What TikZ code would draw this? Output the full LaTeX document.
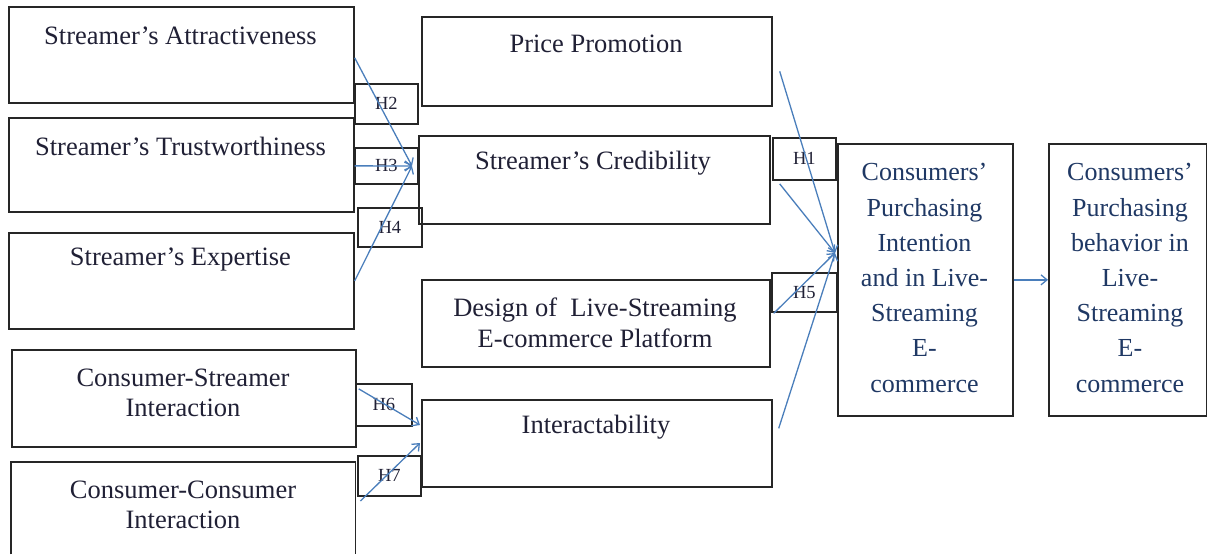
\documentclass[tikz,border=0pt]{standalone}
\usepackage{fontspec}
\setmainfont{Liberation Serif}
\usetikzlibrary{arrows.meta,calc}
\definecolor{arrowblue}{HTML}{4A7EBB}
\definecolor{navy}{HTML}{1F3864}
\definecolor{ink}{HTML}{202035}

\begin{document}
\begin{tikzpicture}[x=1pt,y=-1pt,
  frame/.style={draw=black!85, line width=1.7pt, rectangle, inner sep=0pt, anchor=north west},
  blank/.style={rectangle, inner sep=0pt, anchor=north west},
  boxline/.style={draw=black!85, line width=1.7pt},
  hyp/.style={frame, font=\fontsize{18.5}{20}\selectfont, text=ink},
  lbl/.style={font=\fontsize{26.5}{30.5}\selectfont, text=ink, align=center, inner sep=0pt},
  outlbl/.style={font=\fontsize{26}{35.2}\selectfont, text=navy, align=center, inner sep=0pt},
  arr/.style={draw=arrowblue, line width=1.3pt, -{Straight Barb[length=6pt,width=10pt]}}
]
\useasboundingbox (0,0) rectangle (1207,554);

% antecedent constructs
\node[frame, minimum width=345pt, minimum height=96pt] (A) at (8,6) {};
\node[frame, minimum width=345pt, minimum height=94pt] (T) at (8,117) {};
\node[frame, minimum width=345pt, minimum height=96pt] (E) at (8,232) {};
\node[frame, minimum width=344pt, minimum height=97pt] (CS) at (11,349) {};
\node[blank, minimum width=344pt, minimum height=92pt] (CC) at (11,462) {};
\draw[boxline] (CC.south west) |- (CC.north east) -- (CC.south east);

% mediating constructs
\node[frame, minimum width=350pt, minimum height=89pt] (PP) at (421,16) {};
\node[frame, minimum width=351pt, minimum height=88pt] (CR) at (418,135) {};
\node[frame, minimum width=348pt, minimum height=87pt] (DS) at (421,279) {};
\node[frame, minimum width=350pt, minimum height=87pt] (IA) at (421,399) {};

% outcome constructs
\node[frame, minimum width=175pt, minimum height=272pt] (PI) at (837,143) {};
\node[frame, minimum width=158pt, minimum height=272pt] (PB) at (1048,143) {};

% labels
\node[lbl] (At) at (180.5,36) {Streamer’s Attractiveness};
\node[lbl] (Tt) at (180.5,146) {Streamer’s Trustworthiness};
\node[lbl] (Et) at (180.5,260) {Streamer’s Expertise};
\node[lbl] (CSt) at (183,393) {Consumer-Streamer\\Interaction};
\node[lbl] (CCt) at (183,505) {Consumer-Consumer\\Interaction};
\node[lbl] (PPt) at (596,44) {Price Promotion};
\node[lbl] (CRt) at (593,163) {Streamer’s Credibility};
\node[lbl] (DSt) at (595,323) {Design of~ Live-Streaming\\E-commerce Platform};
\node[lbl] (IAt) at (596,427) {Interactability};
\node[outlbl] (PIt) at (924.5,278) {Consumers’\\Purchasing\\Intention\\and in Live-\\Streaming\\E-\\commerce};
\node[outlbl] (PBt) at (1130,278) {Consumers’\\Purchasing\\behavior in\\Live-\\Streaming\\E-\\commerce};

% hypothesis tags
\node[hyp, minimum width=63pt, minimum height=40pt] (H2) at (354,83) {H2};
\node[hyp, minimum width=63pt, minimum height=36pt] (H3) at (354,147) {H3};
\node[hyp, minimum width=64pt, minimum height=39pt] (H4) at (357,207) {H4};
\node[hyp, minimum width=63pt, minimum height=42pt] (H1) at (772,137) {H1};
\node[hyp, minimum width=65pt, minimum height=39pt] (H5) at (771,272) {H5};
\node[hyp, minimum width=56pt, minimum height=42pt] (H6) at (355,383) {H6};
\node[hyp, minimum width=63pt, minimum height=40pt] (H7) at (357,455) {H7};

% arrow targets
\coordinate (credIn) at (412,166);
\coordinate (interIn1) at (420,425);
\coordinate (interIn2) at (420,443);
\coordinate (hub) at (835,253);

% paths into credibility
\draw[arr] ([yshift=-3pt]A.east) -- (credIn);
\draw[arr] ([yshift=-1pt]T.east) -- (credIn);
\draw[arr] (E.east) -- (credIn);

% paths into interactability
\draw[arr] ([xshift=2pt,yshift=9.5pt]CS.east) -- (interIn1);
\draw[arr] ([xshift=5pt,yshift=-39pt]CC.north east) -- (interIn2);

% paths into purchasing intention
\draw[arr] ([xshift=7pt,yshift=-10pt]PP.east) -- (hub);
\draw[arr] ([xshift=9pt,yshift=-4pt]CR.east) -- (hub);
\draw[arr] ([xshift=3pt,yshift=10pt]DS.east) -- (hub);
\draw[arr] ([xshift=6pt,yshift=15pt]IA.east) -- (hub);

% intention to behaviour
\draw[arr] (PI.east) -- (PB.west);
\end{tikzpicture}
\end{document}
